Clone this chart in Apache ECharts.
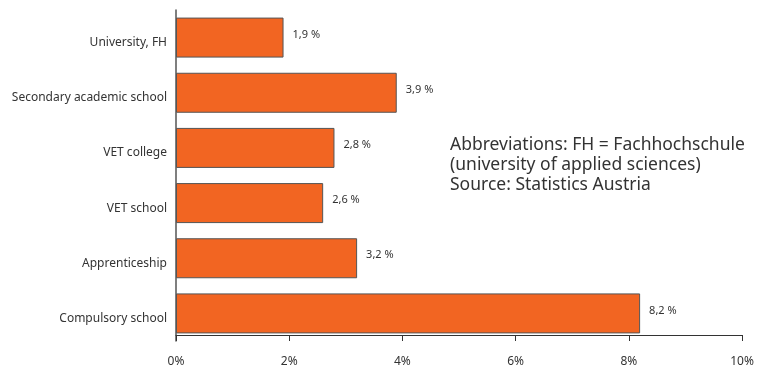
<!DOCTYPE html>
<html><head><meta charset="utf-8">
<script src="https://cdn.jsdelivr.net/npm/echarts@6/dist/echarts.min.js"></script>
<style>html,body{margin:0;padding:0;background:#fff}#c{width:757px;height:368px}</style>
</head><body><div id="c"></div>
<script>
var categories = ["Compulsory school","Apprenticeship","VET school","VET college","Secondary academic school","University, FH"];
var values = [8.2, 3.2, 2.6, 2.8, 3.9, 1.9];
var xTicks = [0, 2, 4, 6, 8, 10];
var noteLines = ["Abbreviations: FH = Fachhochschule","(university of applied sciences)","Source: Statistics Austria"];
var fontFam = "'Noto Sans', 'Open Sans', sans-serif";
var chart = echarts.init(document.getElementById('c'));
chart.setOption({
  animation:false,
  grid:{left:176,right:15,top:10,bottom:25,containLabel:false},
  xAxis:{type:'value',min:xTicks[0],max:xTicks[xTicks.length-1],interval:xTicks[1]-xTicks[0],offset:-6,
    axisLine:{show:true,lineStyle:{color:'#333',width:1}},
    axisTick:{show:true,length:6,inside:false,lineStyle:{color:'#333'}},
    splitLine:{show:false},
    axisLabel:{formatter:'{value}%',color:'#333',fontSize:12,fontFamily:fontFam,margin:21}},
  yAxis:{type:'category',data:categories,
    axisLine:{show:true,lineStyle:{color:'#555',width:1.5}},
    axisTick:{show:false},
    axisLabel:{color:'#333',fontSize:12,fontFamily:fontFam,margin:9,verticalAlign:'top',lineHeight:10}},
  series:[{type:'bar',data:values,barWidth:40,
    itemStyle:{color:'#F26522',borderColor:'#555',borderWidth:1},
    label:{show:true,position:'right',distance:9,offset:[0,-3],color:'#333',fontSize:11,fontFamily:fontFam,
      formatter:function(p){return p.value.toFixed(1).replace('.',',')+' %';}}}],
  graphic:[{type:'text',left:450,top:135,style:{text:noteLines.join('\n'),fontSize:17.5,lineHeight:20,fill:'#333',fontFamily:fontFam}}]
});
</script></body></html>
